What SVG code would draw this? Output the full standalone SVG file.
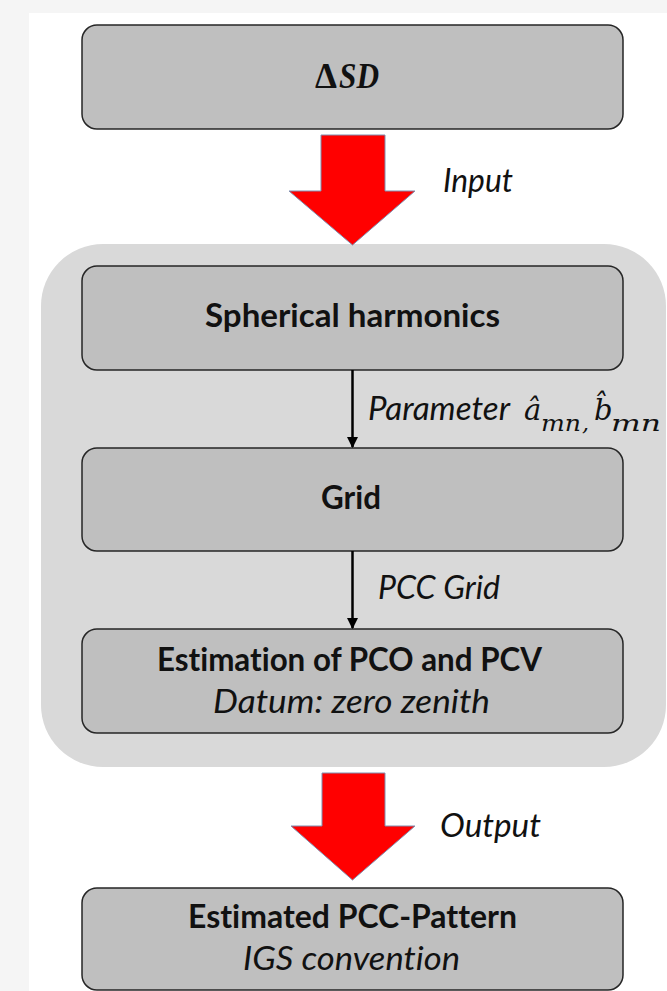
<svg xmlns="http://www.w3.org/2000/svg" width="667" height="991" viewBox="0 0 667 991">
  <style>
    .box { fill: #bfbfbf; stroke: #262626; stroke-width: 1.5; }
    .lbl { font-family: Lato, "Noto Sans", sans-serif; font-size: 33px; fill: #111; font-variant-ligatures: none; }
    .b { font-weight: bold; }
    .i { font-style: italic; }
    .math { font-family: "DejaVu Serif", "Liberation Serif", serif; font-style: italic; fill: #111; }
    .big { font-family: "Liberation Serif", "DejaVu Serif", serif; font-size: 35px; font-weight: bold; fill: #111; }
    .red { fill: #ff0000; stroke: #7f8fb0; stroke-width: 1; }
    .conn { stroke: #000; stroke-width: 2.5; fill: none; }
  </style>
  <defs>
    <marker id="ah" viewBox="0 0 10 10" refX="9" refY="5" markerWidth="4.4" markerHeight="4.4" markerUnits="strokeWidth" orient="auto">
      <path d="M0,0 L10,5 L0,10 z" fill="#000"/>
    </marker>
  </defs>
  <rect x="0" y="0" width="667" height="991" fill="#f5f5f5"/>
  <rect x="29" y="13" width="638" height="978" fill="#ffffff"/>

  <g id="container">
    <rect x="41" y="244" width="625" height="523" rx="62" ry="62" fill="#d9d9d9"/>
  </g>

  <g id="node-dsd">
    <rect class="box" x="82" y="25" width="541" height="104" rx="15" ry="15"/>
    <text class="big" x="315" y="88" textLength="22" lengthAdjust="spacingAndGlyphs">Δ</text>
    <text class="big" x="339" y="88" font-style="italic" textLength="40" lengthAdjust="spacingAndGlyphs">SD</text>
  </g>

  <g id="node-sh">
    <rect class="box" x="82" y="266" width="541" height="104" rx="15" ry="15"/>
    <text class="lbl b" x="205" y="327" textLength="295" lengthAdjust="spacingAndGlyphs">Spherical harmonics</text>
  </g>

  <g id="node-grid">
    <rect class="box" x="82" y="448" width="541" height="103" rx="15" ry="15"/>
    <text class="lbl b" x="321" y="509" textLength="60" lengthAdjust="spacingAndGlyphs">Grid</text>
  </g>

  <g id="node-est">
    <rect class="box" x="82" y="629" width="541" height="104" rx="15" ry="15"/>
    <text class="lbl b" x="157" y="670.5" textLength="385" lengthAdjust="spacingAndGlyphs">Estimation of PCO and PCV</text>
    <text class="lbl i" x="213" y="713" textLength="277" lengthAdjust="spacingAndGlyphs">Datum: zero zenith</text>
  </g>

  <g id="node-out">
    <rect class="box" x="82" y="888" width="541" height="102" rx="15" ry="15"/>
    <text class="lbl b" x="188" y="928" textLength="329" lengthAdjust="spacingAndGlyphs">Estimated PCC-Pattern</text>
    <text class="lbl i" x="243" y="970" textLength="217" lengthAdjust="spacingAndGlyphs">IGS convention</text>
  </g>

  <g id="connectors">
    <path class="red" d="M321,135 L385,135 L385,191 L415,191 L352.5,245 L289,191 L321,191 Z"/>
    <path class="red" d="M322,773 L385,773 L385,826 L415,826 L352.5,880 L291,826 L322,826 Z"/>
    <line class="conn" x1="352.5" y1="370" x2="352.5" y2="447" marker-end="url(#ah)"/>
    <line class="conn" x1="352.5" y1="551" x2="352.5" y2="628" marker-end="url(#ah)"/>
    <text class="lbl i" x="443" y="192" textLength="70" lengthAdjust="spacingAndGlyphs">Input</text>
    <text class="lbl i" x="440" y="837" textLength="101" lengthAdjust="spacingAndGlyphs">Output</text>
    <text class="lbl i" x="378" y="599" textLength="122" lengthAdjust="spacingAndGlyphs">PCC Grid</text>
    <text class="lbl i" x="368" y="420" textLength="142" lengthAdjust="spacingAndGlyphs">Parameter</text>
    <text class="math" x="524" y="420" font-size="29">â</text>
    <text class="math" x="541" y="431" font-size="22" textLength="40" lengthAdjust="spacingAndGlyphs">mn</text>
    <text class="math" x="582" y="431" font-size="22">,</text>
    <text class="math" x="594" y="420" font-size="29">b&#x302;</text>
    <text class="math" x="611" y="431" font-size="22" textLength="50" lengthAdjust="spacingAndGlyphs">mn</text>
  </g>
</svg>
